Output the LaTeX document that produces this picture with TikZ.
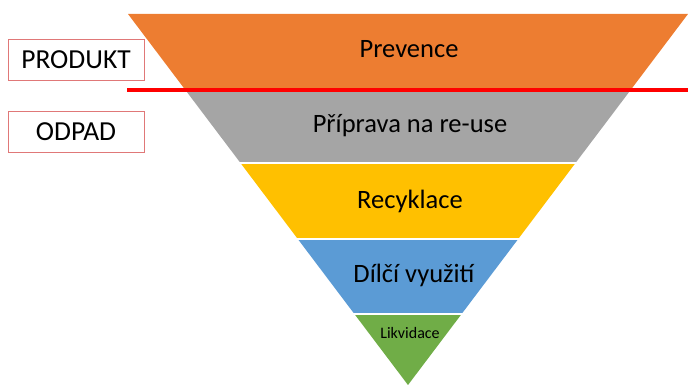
\documentclass[tikz,border=0pt]{standalone}
\usepackage{fontspec}
\setmainfont{Carlito}
\definecolor{prevcol}{HTML}{ED7D31}
\definecolor{reusecol}{HTML}{A5A5A5}
\definecolor{recycol}{HTML}{FFC000}
\definecolor{vyucol}{HTML}{5B9BD5}
\definecolor{likcol}{HTML}{70AD47}
\definecolor{boxline}{HTML}{E07878}
\tikzset{
  label/.style={text=black, font=\fontsize{26.5}{28}\selectfont, inner sep=0pt},
  sidebox/.style={draw=boxline, line width=0.8pt, fill=white, minimum width=136pt,
    minimum height=41pt, font=\fontsize{27.5}{29}\selectfont, inner sep=0pt}
}

\begin{document}
\begin{tikzpicture}[x=1pt, y=-1pt]
			\useasboundingbox (0, 0) rectangle (688, 385);
			% vrstvy
			\fill[prevcol] (128, 14) -- (688, 14) -- (631.0, 89.5) -- (185.0, 89.5) -- cycle;
			\fill[reusecol] (185.0, 89.5) -- (631.0, 89.5) -- (575.5, 163) -- (240.5, 163) -- cycle;
			\fill[recycol] (240.5, 163) -- (575.5, 163) -- (518.2, 239) -- (297.8, 239) -- cycle;
			\fill[vyucol] (297.8, 239) -- (518.2, 239) -- (461.6, 314) -- (354.4, 314) -- cycle;
			\fill[likcol] (354.4, 314) -- (461.6, 314) -- (408, 385) -- cycle;
			\draw[white, line width=1.2pt] (238, 163) -- (578, 163);
			\draw[white, line width=1.2pt] (295, 239) -- (521, 239);
			\draw[white, line width=1.2pt] (352, 314) -- (464, 314);
			\draw[red, line width=4.5pt] (127, 89.8) -- (688, 89.8);
			
			\node[label] (prevence) at (409, 49) {Prevence};
			\node[label] (priprava) at (410, 126) {Příprava na re-use};
			\node[label] (recyklace) at (410, 201) {Recyklace};
			\node[label] (vyuziti) at (414, 275) {Dílčí využití};
			\node[label, font=\fontsize{16}{18}\selectfont] (likvidace) at (410, 333) {Likvidace};
			\node[sidebox] (produkt) at (76, 59.5) {PRODUKT};
			\node[sidebox] (odpad) at (76, 131.5) {ODPAD};
			\end{tikzpicture}
\end{document}
